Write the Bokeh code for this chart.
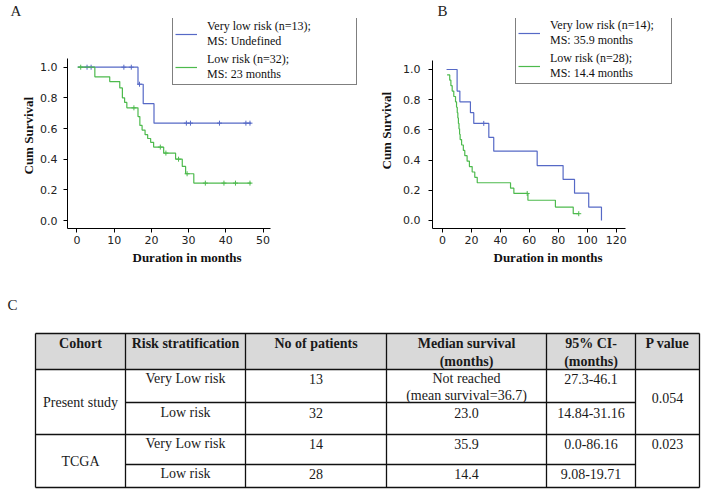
import numpy as np
from bokeh.plotting import figure
from bokeh.models import (Range1d, FixedTicker, PrintfTickFormatter, Label, Legend,
                          LegendItem, Title)
from bokeh.layouts import column, row
from bokeh.embed import file_html
from bokeh.resources import INLINE
from bokeh.core.properties import value

# ---------------- Data: panel A (present study) ----------------
a_vlow_time = [0.2, 16.4, 17.8, 20.7, 46.8]
a_vlow_surv = [1.0, 0.889, 0.762, 0.635, 0.635]
a_vlow_cens_time = [2.7, 3.8, 12.6, 14.6, 16.8, 29.4, 30.5, 38.3, 45.4, 46.5]
a_vlow_cens_surv = [1.0, 1.0, 1.0, 1.0, 0.889, 0.635, 0.635, 0.635, 0.635, 0.635]

a_low_time = [0.2, 4.8, 8.8, 11.5, 12.2, 12.8, 13.4, 16.4, 16.9, 17.5, 18.3, 19.0,
              19.8, 20.6, 23.3, 26.5, 28.3, 29.2, 31.4, 46.8]
a_low_surv = [1.0, 0.937, 0.906, 0.865, 0.80, 0.77, 0.735, 0.678, 0.62, 0.59, 0.56, 0.535,
              0.51, 0.479, 0.44, 0.40, 0.353, 0.305, 0.244, 0.244]
a_low_cens_time = [1.0, 15.3, 22.4, 23.9, 27.3, 29.6, 34.5, 39.5, 42.6, 46.5]
a_low_cens_surv = [1.0, 0.735, 0.479, 0.44, 0.40, 0.305, 0.244, 0.244, 0.244, 0.244]

# ---------------- Data: panel B (TCGA) ----------------
b_vlow_time = [2.8, 10.1, 12.0, 19.3, 21.6, 32.0, 35.4, 65.4, 83.3, 91.2, 101.0, 109.8]
b_vlow_surv = [1.0, 0.857, 0.786, 0.714, 0.643, 0.55, 0.459, 0.364, 0.272, 0.181, 0.088, 0.0]
b_vlow_cens_time = [28.5]
b_vlow_cens_surv = [0.643]

b_low_time = [3.2, 5.0, 5.8, 6.7, 7.8, 9.0, 9.7, 10.2, 10.6, 11.0, 11.4, 11.8, 12.2, 13.2,
              14.4, 15.4, 17.0, 18.6, 20.5, 22.3, 24.0, 47.0, 49.3, 59.0, 78.0, 90.3, 94.1]
b_low_surv = [0.964, 0.929, 0.893, 0.857, 0.821, 0.786, 0.75, 0.714, 0.679, 0.643, 0.607,
              0.571, 0.536, 0.50, 0.464, 0.429, 0.393, 0.357, 0.321, 0.286, 0.25, 0.214,
              0.179, 0.134, 0.089, 0.045, 0.045]
b_low_cens_time = [58.5, 94.1]
b_low_cens_surv = [0.179, 0.045]

legend_a = ["Very low risk (n=13);\nMS: Undefined", "Low risk (n=32);\nMS: 23 months"]
legend_b = ["Very low risk (n=14);\nMS: 35.9 months", "Low risk (n=28);\nMS: 14.4 months"]

x_ticks_a = [0, 10, 20, 30, 40, 50]
x_ticks_b = [0, 20, 40, 60, 80, 100, 120]
y_ticks = [0.0, 0.2, 0.4, 0.6, 0.8, 1.0]

# ---------------- Data: panel C (table) ----------------
headers = ["Cohort", "Risk stratification", "No of patients", "Median survival", "95% CI-", "P value"]
headers_2 = ["", "", "", "(months)", "(months)", ""]
cohorts = ["Present study", "TCGA"]
risk_groups = ["Very Low risk", "Low risk", "Very Low risk", "Low risk"]
n_patients = ["13", "32", "14", "28"]
median_surv = ["Not reached", "23.0", "35.9", "14.4"]
median_note = ["(mean survival=36.7)"]
ci_95 = ["27.3-46.1", "14.84-31.16", "0.0-86.16", "9.08-19.71"]
p_values = ["0.054", "0.023"]

# ---------------- styles ----------------
BLUE = "#5669c6"
GREEN = "#4dba4d"
SERIF = "Liberation Serif"
SANS = "DejaVu Sans"


def make_panel(origin, width, height, frame, xr, yr, xbounds, ybounds, xticks, curves,
               legend_labels, letter, letter_offset, ytitle_offset, ytitle_standoff,
               ytitle_valign, ylabel_standoff, xtitle_offset, legend_box, legend_label_width):
    # frame = (left, right, top, bottom) in window pixels
    l, r, t, b = [frame[0] - origin[0], frame[1] - origin[0],
                  frame[2] - origin[1], frame[3] - origin[1]]
    p = figure(width=width, height=height, x_range=Range1d(*xr), y_range=Range1d(*yr),
               output_backend="svg", toolbar_location=None, tools="",
               min_border_left=l, min_border_right=width - r,
               min_border_top=t, min_border_bottom=height - b)
    p.outline_line_color = None
    p.grid.visible = False
    p.xaxis.ticker = FixedTicker(ticks=xticks)
    p.yaxis.ticker = FixedTicker(ticks=y_ticks)
    p.yaxis.formatter = PrintfTickFormatter(format="%.1f")
    p.xaxis.bounds = xbounds
    p.yaxis.bounds = ybounds
    for ax in (p.xaxis, p.yaxis):
        ax.axis_line_color = "black"
        ax.axis_line_width = 1
        ax.major_tick_line_color = "black"
        ax.major_tick_out = 4
        ax.major_tick_in = 0
        ax.minor_tick_line_color = None
        ax.major_label_text_font = SANS
        ax.major_label_text_font_size = "11px"
        ax.major_label_text_color = "#222222"
    p.xaxis.major_label_standoff = 3
    p.yaxis.major_label_standoff = ylabel_standoff

    renderers = []
    for (tt, ss, ct, cs, col) in curves:
        rr = p.step(x=tt, y=ss, mode="after", line_color=col, line_width=1.2)
        p.scatter(x=ct, y=cs, marker="cross", size=5, line_color=col, line_width=1)
        renderers.append(rr)

    # panel letter
    p.title.text = letter
    p.title.align = "left"
    p.title.offset = letter_offset
    p.title.standoff = 0
    p.title.text_font = SERIF
    p.title.text_font_size = "15px"
    p.title.text_font_style = "normal"
    p.title.text_color = "#222222"

    p.add_layout(Title(text="Cum Survival", align="left", offset=ytitle_offset,
                       standoff=ytitle_standoff, vertical_align=ytitle_valign,
                       text_font=SERIF, text_font_size="13px",
                       text_font_style="bold", text_color="#111111"), "left")
    p.add_layout(Title(text="Duration in months", align="left", offset=xtitle_offset,
                       standoff=2, text_font=SERIF, text_font_size="13px",
                       text_font_style="bold", text_color="#111111"), "below")

    lx = legend_box[0] - frame[0]
    ly = frame[3] - legend_box[1]
    leg = Legend(items=[LegendItem(label=lab, renderers=[rr])
                        for lab, rr in zip(legend_labels, renderers)],
                 location=(lx, ly))
    leg.label_text_font = SERIF
    leg.label_text_font_size = "12px"
    leg.label_text_color = "#111111"
    leg.label_text_line_height = 0.85
    leg.label_width = legend_label_width
    leg.padding = 2
    leg.spacing = 3
    leg.margin = 0
    leg.glyph_width = 22
    leg.glyph_height = 12
    leg.label_standoff = 10
    leg.border_line_color = "black"
    leg.border_line_width = 1
    leg.background_fill_color = "white"
    leg.background_fill_alpha = 1.0
    p.add_layout(leg)
    return p


# Panel A: canvas window x 0..370, y 0..285; frame window x 67..365, y 18..228
pA = make_panel(origin=(0, 0), width=370, height=285, frame=(67, 365, 18, 228),
                xr=(-2.55, 77.55), yr=(-0.052, 1.3177),
                xbounds=(-2.55, 52.0), ybounds=(-0.052, 1.057), xticks=x_ticks_a,
                curves=[(a_vlow_time, a_vlow_surv, a_vlow_cens_time, a_vlow_cens_surv, BLUE),
                        (a_low_time, a_low_surv, a_low_cens_time, a_low_cens_surv, GREEN)],
                legend_labels=legend_a, letter="A", letter_offset=-57,
                ytitle_offset=54, ytitle_standoff=4, ytitle_valign="bottom",
                ylabel_standoff=6, xtitle_offset=65,
                legend_box=(172, 85), legend_label_width=147)

# Panel B: canvas window x 370..706, y 0..285; frame window x 432..700, y 18..228
pB = make_panel(origin=(370, 0), width=336, height=285, frame=(432, 700, 18, 228),
                xr=(-6.9, 178.2), yr=(-0.053, 1.3377),
                xbounds=(-6.9, 126.4), ybounds=(-0.053, 1.06), xticks=x_ticks_b,
                curves=[(b_vlow_time, b_vlow_surv, b_vlow_cens_time, b_vlow_cens_surv, BLUE),
                        (b_low_time, b_low_surv, b_low_cens_time, b_low_cens_surv, GREEN)],
                legend_labels=legend_b, letter="B", letter_offset=5,
                ytitle_offset=59, ytitle_standoff=10, ytitle_valign="top",
                ylabel_standoff=8, xtitle_offset=61,
                legend_box=(515, 84), legend_label_width=119)

# ---------------- Panel C: table (window coordinates) ----------------
col_edges = [35, 125, 245, 386, 546, 635, 699]
row_edges = [333, 369, 402, 434, 464, 487]
col_mid = [(a + b) / 2 for a, b in zip(col_edges[:-1], col_edges[1:])]
header_y = [343, 361]
row_text_y = [378, 412, 443, 473]
note_y = 395
cohort_y = [402, 461]
p_y = [397, 443]

pC = figure(width=706, height=210, x_range=Range1d(0, 706), y_range=Range1d(495, 285),
            output_backend="svg", toolbar_location=None, tools="",
            x_axis_type=None, y_axis_type=None,
            min_border_left=0, min_border_right=0, min_border_top=0, min_border_bottom=0)
pC.outline_line_color = None
pC.grid.visible = False

pC.quad(left=[col_edges[0]], right=[col_edges[-1]], top=[row_edges[0]], bottom=[row_edges[1]],
        fill_color="#d9d9d9", line_color=None)

hx0, hx1, hy = [], [], []
for yv in [row_edges[0], row_edges[1], row_edges[3], row_edges[5]]:
    hx0.append(col_edges[0]); hx1.append(col_edges[-1]); hy.append(yv)
for yv in [row_edges[2], row_edges[4]]:
    hx0.append(col_edges[1]); hx1.append(col_edges[-2]); hy.append(yv)
pC.segment(x0=hx0, y0=hy, x1=hx1, y1=hy, line_color="#111111", line_width=1.3)
pC.segment(x0=col_edges, y0=[row_edges[0]] * len(col_edges), x1=col_edges,
           y1=[row_edges[-1]] * len(col_edges), line_color="#111111", line_width=1.3)

font_kw = dict(text_font=value(SERIF), text_align="center", text_baseline="middle",
               text_color="#1a1a1a")

pC.text(x=col_mid, y=[header_y[0]] * 6, text=headers, text_font_size="14px",
        text_font_style="bold", **font_kw)
h2x = [col_mid[i] for i, h in enumerate(headers_2) if h]
h2t = [h for h in headers_2 if h]
pC.text(x=h2x, y=[header_y[1]] * len(h2t), text=h2t, text_font_size="14px",
        text_font_style="bold", **font_kw)

pC.text(x=[col_mid[0]] * 2, y=cohort_y, text=cohorts, text_font_size="14px", **font_kw)
pC.text(x=[col_mid[1]] * 4, y=row_text_y, text=risk_groups, text_font_size="14px", **font_kw)
pC.text(x=[col_mid[2]] * 4, y=row_text_y, text=n_patients, text_font_size="14px", **font_kw)
pC.text(x=[col_mid[3]] * 4, y=row_text_y, text=median_surv, text_font_size="14px", **font_kw)
pC.text(x=[col_mid[3]], y=[note_y], text=median_note, text_font_size="14px", **font_kw)
pC.text(x=[col_mid[4]] * 4, y=row_text_y, text=ci_95, text_font_size="14px", **font_kw)
pC.text(x=[col_mid[5]] * 2, y=p_y, text=p_values, text_font_size="14px", **font_kw)

pC.add_layout(Label(x=12, y=304, text="C", text_font=SERIF, text_font_size="15px",
                    text_align="center", text_baseline="middle", text_color="#222222"))

layout = column(row(pA, pB, spacing=0), pC, spacing=0)
open("out.html", "w").write(file_html(layout, INLINE))
